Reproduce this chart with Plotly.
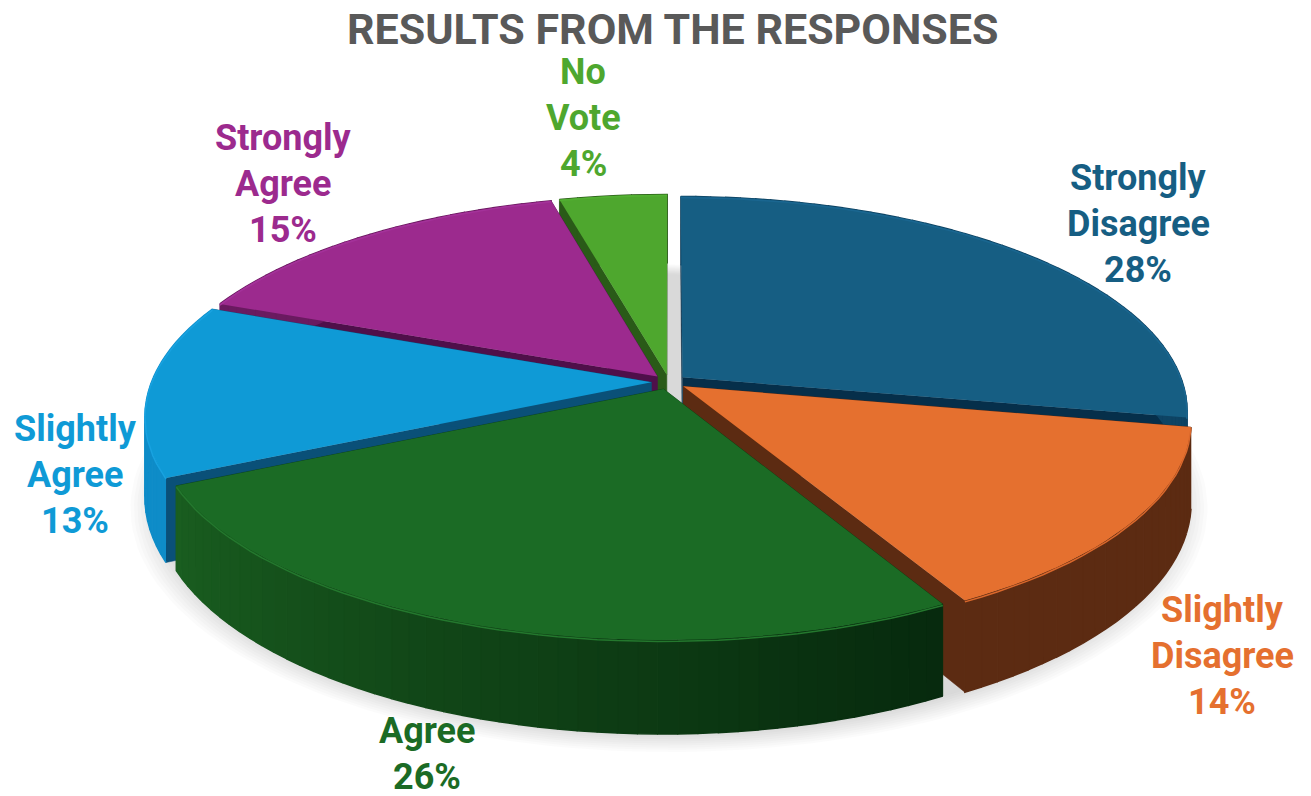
import numpy as np
import plotly.graph_objects as go

title = "RESULTS FROM THE RESPONSES"
categories = ["Strongly Disagree", "Slightly Disagree", "Agree", "Slightly Agree", "Strongly Agree", "No Vote"]
values = [28, 14, 26, 13, 15, 4]

top_colors = ["#165E83", "#E5702F", "#1B6B25", "#0F9AD6", "#9C2A8E", "#4EA72E"]
radial_colors = ["#062F4A", "#5C2B12", "#0A3A10", "#0A5078", "#4F0F4A", "#2A5A18"]
wall_start = ["#0E4464", "#5C2B12", "#072A0E", "#0E8CC8", "#6A1A60", "#2A5A18"]
wall_end = ["#0E4464", "#5C2B12", "#1A5E20", "#0E8CC8", "#6A1A60", "#2A5A18"]
rim_colors = ["#1A6690", "#DA682C", "#24782E", "#18A2E0", "#A4329A", "#52B032"]
draw_order = [5, 4, 0, 3, 1, 2]

label_lines = [["Strongly", "Disagree"], ["Slightly", "Disagree"], ["Agree"], ["Slightly", "Agree"], ["Strongly", "Agree"], ["No", "Vote"]]
label_anchor = [(1138, 178), (1222, 610), (427, 731), (75, 429), (283, 138), (583, 72)]
LINE_STEP = 46

CX, CY, A, B, P, H, PULL = 669, 382, 500, 210, 0.154, 79, 0.035


def proj(X, Y, z=0.0):
    s = 1 / (1 + P * Y)
    return CX + A * X * s, CY - B * Y * s + z * H * s


def rgb(c):
    return np.array([int(c[i:i + 2], 16) for i in (1, 3, 5)], float)


def mix(c1, c2, t):
    v = rgb(c1) * (1 - t) + rgb(c2) * t
    return "rgb(%d,%d,%d)" % tuple(v)


fig = go.Figure()


def poly(x, y, color, line=1.5, opacity=1.0):
    fig.add_trace(go.Scatter(x=list(x), y=list(y), mode="lines", fill="toself", fillcolor=color,
                             line=dict(color=color, width=line), opacity=opacity,
                             hoverinfo="skip", showlegend=False))


# soft shadow under the pie
th = np.linspace(0, 2 * np.pi, 180)
for k in np.linspace(1.06, 1.0, 10):
    sx, sy = proj(k * np.sin(th), k * np.cos(th) - 0.015, 1.05)
    poly(sx, sy, "rgb(140,140,140)", line=0, opacity=0.03)

total = sum(values)
edges = np.cumsum([0] + values) / total * 2 * np.pi

for i in draw_order:
    t0, t1 = edges[i], edges[i + 1]
    mid = (t0 + t1) / 2
    ox, oy = PULL * np.sin(mid), PULL * np.cos(mid)
    t = np.linspace(t0, t1, max(int((t1 - t0) * 30), 6))
    X, Y = ox + np.sin(t), oy + np.cos(t)

    # radial side walls
    for e in (t0, t1):
        px = [ox, ox + np.sin(e)]
        py = [oy, oy + np.cos(e)]
        a = [proj(px[0], py[0], 0), proj(px[1], py[1], 0), proj(px[1], py[1], 1), proj(px[0], py[0], 1)]
        poly([p[0] for p in a], [p[1] for p in a], radial_colors[i], line=0.5)

    # curved outer wall
    for j in range(len(t) - 1):
        q = [proj(X[j], Y[j], 0), proj(X[j + 1], Y[j + 1], 0), proj(X[j + 1], Y[j + 1], 1), proj(X[j], Y[j], 1)]
        poly([p[0] for p in q], [p[1] for p in q], mix(wall_start[i], wall_end[i], j / (len(t) - 2)))

    # top face
    xs, ys = proj(np.r_[ox, X, ox], np.r_[oy, Y, oy], 0)
    poly(xs, ys, top_colors[i], line=0)

    # bevel along the rim
    rx, ry = proj(X, Y, 0.015)
    fig.add_trace(go.Scatter(x=rx, y=ry, mode="lines", line=dict(color=rim_colors[i], width=1.5),
                             hoverinfo="skip", showlegend=False))

annotations = [dict(x=672, y=29, text="<b>%s</b>" % title, showarrow=False, xref="x", yref="y",
                    font=dict(family="Roboto", size=43, color="#595959"))]
for i, lines in enumerate(label_lines):
    x0, y0 = label_anchor[i]
    pct = "%d%%" % values[i]
    for n, txt in enumerate(lines + [pct]):
        annotations.append(dict(x=x0, y=y0 + n * LINE_STEP, text="<b>%s</b>" % txt, showarrow=False,
                                xref="x", yref="y",
                                font=dict(family="Roboto", size=36, color=top_colors[i])))

fig.update_layout(width=1311, height=796, margin=dict(l=0, r=0, t=0, b=0), showlegend=False,
                  paper_bgcolor="white", plot_bgcolor="white", annotations=annotations,
                  xaxis=dict(range=[0, 1311], visible=False, fixedrange=True),
                  yaxis=dict(range=[796, 0], visible=False, fixedrange=True))
fig.write_html("out.html", config=dict(displayModeBar=False),
               post_script="document.body.style.margin='0';document.body.style.overflow='hidden';")
